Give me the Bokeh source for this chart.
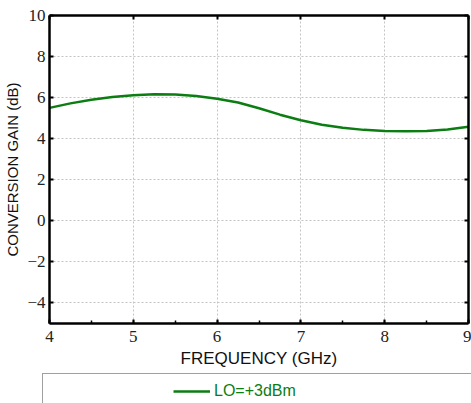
from bokeh.plotting import figure
from bokeh.layouts import column
from bokeh.models import (LinearAxis, SingleIntervalTicker, Legend, LegendItem,
                          Range1d, CustomJSTickFormatter, InlineStyleSheet)
from bokeh.embed import file_html
from bokeh.resources import INLINE

# ---- data ----
freq = [4.0, 4.25, 4.5, 4.75, 5.0, 5.25, 5.5, 5.75, 6.0, 6.25, 6.5, 6.75,
        7.0, 7.25, 7.5, 7.75, 8.0, 8.25, 8.5, 8.75, 9.0]
gain = [5.50, 5.72, 5.90, 6.03, 6.12, 6.16, 6.15, 6.08, 5.95, 5.76, 5.48, 5.17,
        4.90, 4.68, 4.53, 4.43, 4.38, 4.36, 4.38, 4.45, 4.58]
series_label = "LO=+3dBm"
x_label = "FREQUENCY (GHz)"
y_label = "CONVERSION GAIN (dB)"
y_overrides = {-4: "\u22124", -2: "\u22122"}

GREEN = "#0b7d12"
TICK_FONT = "Liberation Serif"
LABEL_FONT = "Liberation Sans"

p = figure(width=471, height=373, x_range=Range1d(4, 9), y_range=Range1d(-5, 10),
           output_backend="svg", toolbar_location=None,
           min_border_left=49, min_border_right=3, min_border_top=15, min_border_bottom=50,
           x_axis_label=x_label, y_axis_label=y_label)
p.background_fill_color = "white"
p.border_fill_color = "white"
p.outline_line_color = None

line_r = p.line(freq, gain, color=GREEN, line_width=2.5)

xt = SingleIntervalTicker(interval=1, num_minor_ticks=2)
yt = SingleIntervalTicker(interval=2, num_minor_ticks=0)
p.xaxis.ticker = xt
p.yaxis.ticker = yt
p.yaxis.major_label_overrides = y_overrides

for ax in [p.xaxis[0], p.yaxis[0]]:
    ax.axis_line_width = 2.5
    ax.axis_line_color = "black"
    ax.major_tick_in = 4
    ax.major_tick_out = 0
    ax.major_tick_line_width = 2
    ax.minor_tick_in = 3
    ax.minor_tick_out = 0
    ax.minor_tick_line_width = 1.5
    ax.major_label_text_font = TICK_FONT
    ax.major_label_text_font_size = "17px"
    ax.major_label_text_color = "#222222"
    ax.axis_label_text_font = LABEL_FONT
    ax.axis_label_text_font_style = "normal"
    ax.axis_label_text_color = "#111111"

p.xaxis.axis_label_text_font_size = "17px"
p.yaxis.axis_label_text_font_size = "15px"
p.yaxis.minor_tick_line_color = None
p.xaxis.major_label_standoff = 7
p.xaxis.axis_label_standoff = 4
p.yaxis.major_label_standoff = 4
p.yaxis.axis_label_standoff = 3

blank = CustomJSTickFormatter(code="return ''")
top = LinearAxis(ticker=xt, formatter=blank, axis_line_width=2.5,
                 major_tick_in=4, major_tick_out=0, major_tick_line_width=2,
                 minor_tick_line_color=None, major_label_standoff=0)
right = LinearAxis(ticker=yt, formatter=blank, axis_line_width=2.5,
                   major_tick_in=4, major_tick_out=0, major_tick_line_width=2,
                   minor_tick_line_color=None, major_label_standoff=0)
p.add_layout(top, "above")
p.add_layout(right, "right")

p.xgrid.ticker = xt
p.ygrid.ticker = yt
for g in [p.xgrid[0], p.ygrid[0]]:
    g.grid_line_color = "#c4c4c4"
    g.grid_line_dash = "2 2"
    g.grid_line_width = 1

# ---- legend strip below the plot ----
lf = figure(width=471, height=30, x_range=Range1d(4, 9), y_range=Range1d(-5, 10),
            output_backend="svg", toolbar_location=None,
            x_axis_location=None, y_axis_location=None, min_border=0)
lf.grid.visible = False
lf.outline_line_color = None
lf.background_fill_color = "white"
lf.border_fill_color = "white"
key_r = lf.line(freq, gain, color=GREEN, line_width=2.5, visible=False)
legend = Legend(items=[LegendItem(label=series_label, renderers=[key_r])],
                location=(124, 2), padding=0, glyph_width=37, glyph_height=20,
                label_standoff=4, border_line_alpha=0, background_fill_alpha=0,
                inactive_fill_alpha=0, label_text_color=GREEN,
                label_text_font=LABEL_FONT, label_text_font_size="16px")
lf.add_layout(legend)

# light grey legend frame (open towards the right/bottom edges of the picture)
lf.stylesheets = [InlineStyleSheet(css="""
:host::after {
  content: ''; position: absolute; left: 42px; top: 0px; right: 0px; bottom: 0px;
  border-top: 1.5px solid #a0a0a0; border-left: 1.5px solid #a0a0a0;
  pointer-events: none; z-index: 10; box-sizing: border-box;
}
""")]

layout = column(p, lf, spacing=0)
open("out.html", "w").write(file_html(layout, INLINE))
